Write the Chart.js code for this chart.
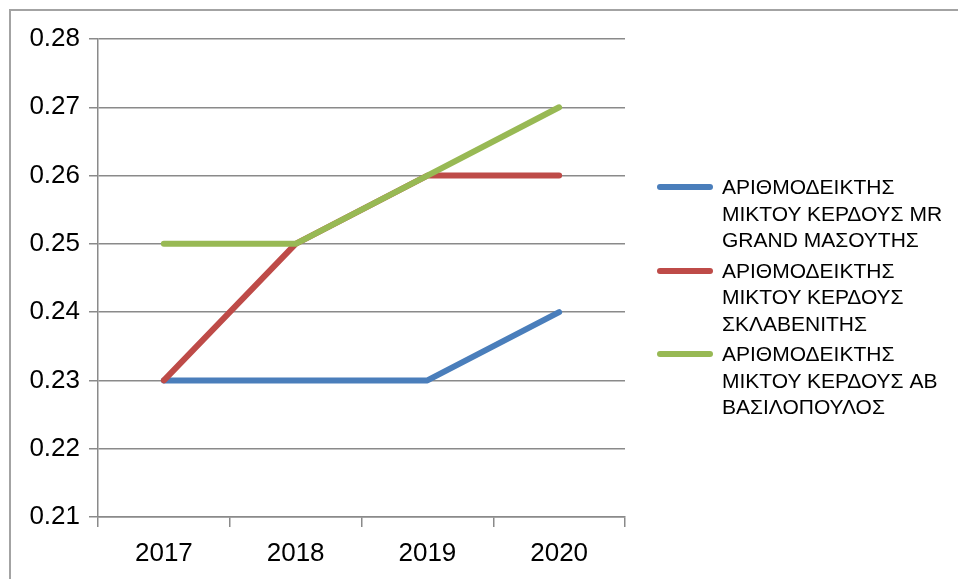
<!DOCTYPE html>
<html>
<head>
<meta charset="utf-8">
<script src="https://cdn.jsdelivr.net/npm/chart.js@4"></script>
<style>
    html, body { margin: 0; padding: 0; background: #fff; }
    #wrap { position: relative; width: 958px; height: 579px; overflow: hidden; }
    #frame { position: absolute; left: 9px; top: 9px; width: 1000px; height: 600px;
             border-left: 2px solid #a3a3a3; border-top: 2px solid #a3a3a3; }
    canvas { position: absolute; left: 0; top: 0; }
    #legend { position: absolute; left: 657px; top: 174px; font-family: "Liberation Sans", Arial, sans-serif;
              font-size: 21px; line-height: 26.5px; color: #000; }
    .item { position: relative; padding-left: 65px; margin-bottom: 4px; white-space: nowrap; }
    .swatch { position: absolute; left: 0; top: 10px; width: 56px; height: 6px; border-radius: 3px; }
</style>
</head>
<body>
<div id="wrap">
    <div id="frame"></div>
    <canvas id="chart" width="958" height="579"></canvas>
    <div id="legend"></div>
</div>
<script>
'use strict';

const years = ['2017', '2018', '2019', '2020'];
const masoutis = [0.23, 0.23, 0.23, 0.24];
const sklavenitis = [0.23, 0.25, 0.26, 0.26];
const vasilopoulos = [0.25, 0.25, 0.26, 0.27];
const seriesNames = [
    ['ΑΡΙΘΜΟΔΕΙΚΤΗΣ', 'ΜΙΚΤΟΥ ΚΕΡΔΟΥΣ MR', 'GRAND ΜΑΣΟΥΤΗΣ'],
    ['ΑΡΙΘΜΟΔΕΙΚΤΗΣ', 'ΜΙΚΤΟΥ ΚΕΡΔΟΥΣ', 'ΣΚΛΑΒΕΝΙΤΗΣ'],
    ['ΑΡΙΘΜΟΔΕΙΚΤΗΣ', 'ΜΙΚΤΟΥ ΚΕΡΔΟΥΣ AB', 'ΒΑΣΙΛΟΠΟΥΛΟΣ']
];
const colors = ['#4a7ebb', '#be4b48', '#98b954'];

const font = { family: '"Liberation Sans", Arial, sans-serif', size: 26 };

function makeSet(i, data, order) {
    return {
        label: seriesNames[i].join(' '),
        data: data,
        borderColor: colors[i],
        backgroundColor: colors[i],
        borderWidth: 6,
        borderCapStyle: 'round',
        borderJoinStyle: 'round',
        pointRadius: 0,
        tension: 0,
        order: order
    };
}

new Chart(document.getElementById('chart').getContext('2d'), {
    type: 'line',
    data: {
        labels: years,
        datasets: [
            makeSet(0, masoutis, 3),
            makeSet(1, sklavenitis, 2),
            makeSet(2, vasilopoulos, 1)
        ]
    },
    options: {
        responsive: false,
        animation: false,
        layout: { padding: { top: 39, right: 333, left: 0, bottom: 0 } },
        plugins: { legend: { display: false }, tooltip: { enabled: false } },
        scales: {
            x: {
                offset: true,
                grid: { offset: true, drawOnChartArea: false, drawTicks: true, tickLength: 10,
                        color: '#8a8a8a', lineWidth: 1.5 },
                border: { color: '#8a8a8a', width: 1.5 },
                ticks: { color: '#000', font: font, padding: 11, maxRotation: 0 },
                afterFit: s => { s.height = 62; }
            },
            y: {
                min: 0.21,
                max: 0.28,
                grid: { color: '#8a8a8a', lineWidth: 1.5, tickLength: 9 },
                border: { color: '#8a8a8a', width: 1.5 },
                ticks: { stepSize: 0.01, color: '#000', font: font, padding: 9,
                         callback: v => v.toFixed(2) },
                afterFit: s => { s.width = 98; }
            }
        }
    }
});

// legend with wrapped labels
const legend = document.getElementById('legend');
seriesNames.forEach((lines, i) => {
    const item = document.createElement('div');
    item.className = 'item';
    const sw = document.createElement('div');
    sw.className = 'swatch';
    sw.style.background = colors[i];
    item.appendChild(sw);
    lines.forEach(t => {
        const d = document.createElement('div');
        d.textContent = t;
        item.appendChild(d);
    });
    legend.appendChild(item);
});
</script>
</body>
</html>
